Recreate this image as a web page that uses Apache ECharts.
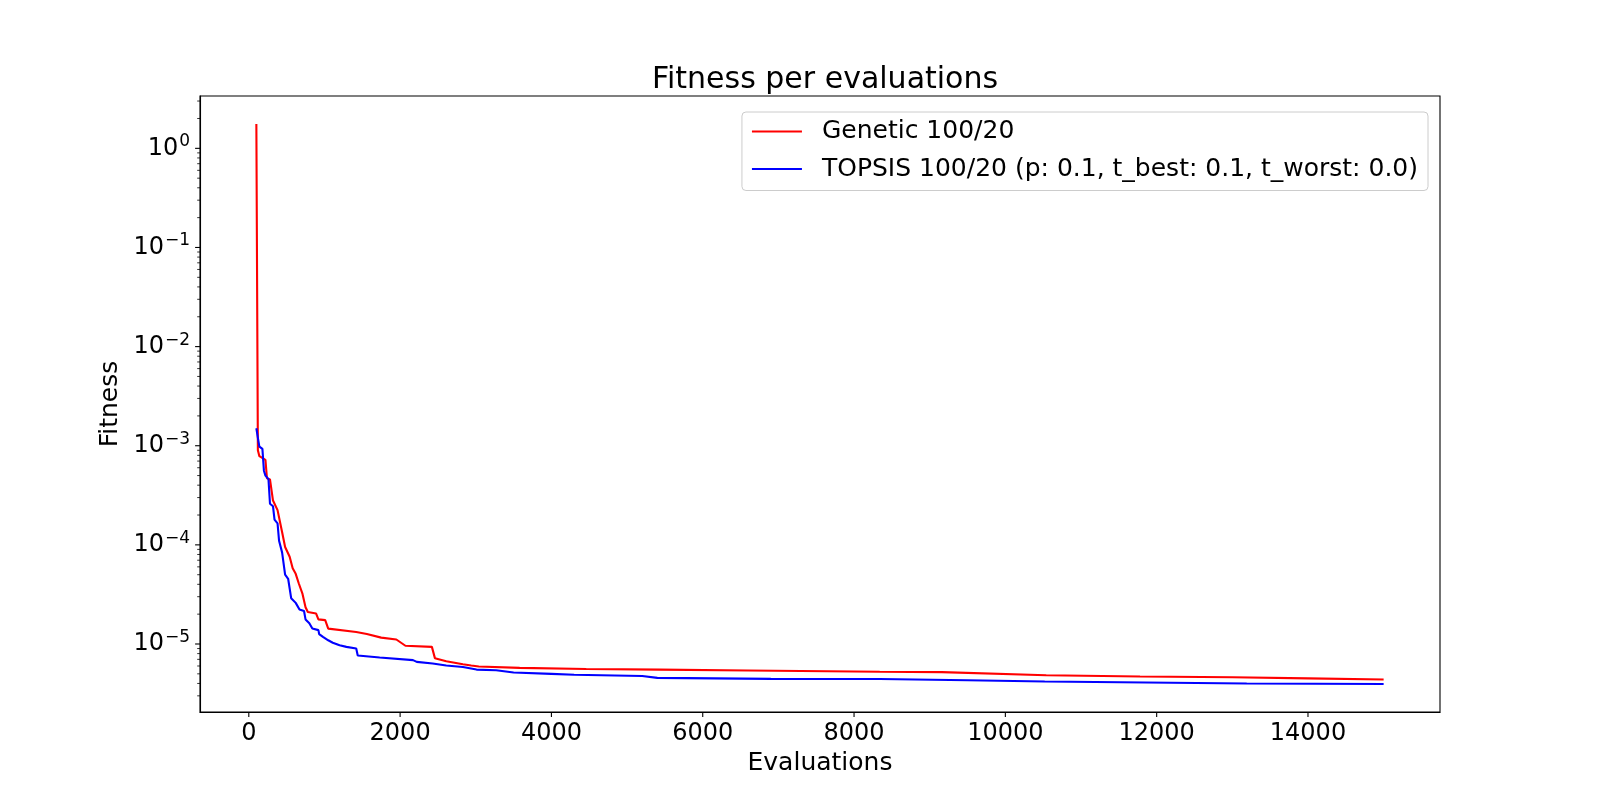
<!DOCTYPE html>
<html><head><meta charset="utf-8">
<script src="https://cdn.jsdelivr.net/npm/echarts@6/dist/echarts.min.js"></script>
<style>html,body{margin:0;padding:0;background:#fff}#c{width:1600px;height:800px}</style>
</head><body><div id="c"></div>
<script>
const chartTitle = 'Fitness per evaluations';
const xName = 'Evaluations';
const yName = 'Fitness';
const seriesNames = ['Genetic 100/20', 'TOPSIS 100/20 (p: 0.1, t_best: 0.1, t_worst: 0.0)'];

const geneticEvals = [100,120,140,220,240,280,320,380,400,440,480,540,580,620,660,710,750,780,890,920,1010,1050,1420,1560,1750,1950,2070,2420,2460,2610,2830,2940,3040,3580,4460,5430,6600,8340,9160,9180,10540,11780,13000,14000,15000];
const geneticFitness = [1.76,9.0e-4,7.85e-4,7.2e-4,4.7e-4,4.57e-4,2.8e-4,2.24e-4,2.15e-4,1.35e-4,9.5e-5,7.6e-5,5.8e-5,5.1e-5,4.1e-5,3.2e-5,2.35e-5,2.1e-5,2.03e-5,1.77e-5,1.74e-5,1.43e-5,1.32e-5,1.26e-5,1.16e-5,1.11e-5,9.6e-6,9.35e-6,7.2e-6,6.7e-6,6.25e-6,6.07e-6,5.93e-6,5.74e-6,5.6e-6,5.52e-6,5.4e-6,5.24e-6,5.2e-6,4.99e-6,4.84e-6,4.7e-6,4.62e-6,4.5e-6,4.38e-6];

const topsisEvals = [100,120,140,180,200,220,260,280,320,340,380,400,440,480,520,560,620,670,730,750,800,840,920,930,980,1050,1110,1200,1290,1420,1440,1730,2170,2220,2430,2610,2830,3010,3270,3500,4000,4300,5200,5400,6900,8340,9500,10520,13190,15000];
const topsisFitness = [1.5e-3,1.2e-3,9.8e-4,9.3e-4,5.6e-4,5.0e-4,4.6e-4,2.6e-4,2.45e-4,1.8e-4,1.65e-4,1.1e-4,8.4e-5,5.0e-5,4.55e-5,2.9e-5,2.6e-5,2.23e-5,2.15e-5,1.77e-5,1.62e-5,1.43e-5,1.38e-5,1.26e-5,1.18e-5,1.09e-5,1.03e-5,9.7e-6,9.35e-6,9.0e-6,7.65e-6,7.3e-6,6.87e-6,6.6e-6,6.35e-6,6.07e-6,5.87e-6,5.52e-6,5.43e-6,5.15e-6,5.0e-6,4.9e-6,4.75e-6,4.55e-6,4.45e-6,4.44e-6,4.31e-6,4.18e-6,3.99e-6,3.95e-6];

const xTickValues = [0,2000,4000,6000,8000,10000,12000,14000];
const yTickExponents = [0,-1,-2,-3,-4,-5];

const X_MIN = -645, X_MAX = 15745;
const Y_MIN = Math.pow(10, -5.686), Y_MAX = Math.pow(10, 0.528);
const FONT = 'DejaVu Sans';

const yMajor = yTickExponents.map(e => Math.pow(10, e));
const yMinor = [];
for (let n = -6; n <= 0; n++) for (let k = 2; k <= 9; k++) {
  const v = k * Math.pow(10, n);
  if (v > Y_MIN && v < Y_MAX) yMinor.push(v);
}
const tickData = [];
yMajor.forEach(v => tickData.push([X_MIN, v, 1]));
yMinor.forEach(v => tickData.push([X_MIN, v, 0]));
xTickValues.forEach(v => tickData.push([v, Y_MIN, 2]));

function zip(a, b) { return a.map((x, i) => [x, b[i]]); }

const chart = echarts.init(document.getElementById('c'), null, {renderer: 'canvas'});
chart.setOption({
  animation: false,
  backgroundColor: '#fff',
  title: {
    text: chartTitle, left: 820, top: 60, textAlign: 'center',
    textStyle: {fontFamily: FONT, fontSize: 30, fontWeight: 'normal', color: '#000'}
  },
  legend: {
    data: seriesNames.map(n => ({name: n, icon: 'rect'})), orient: 'vertical', right: 172, top: 112,
    itemWidth: 50, itemHeight: 2.1, itemGap: 12.5,
    padding: [7, 10, 9, 10],
    backgroundColor: 'rgba(255,255,255,0.8)', borderColor: '#cccccc', borderWidth: 1, borderRadius: 4,
    textStyle: {fontFamily: FONT, fontSize: 25, color: '#000', padding: [0, 0, 0, 15], lineHeight: 25}
  },
  grid: {left: 200, right: 160, top: 96, bottom: 88, show: true, borderColor: '#000', borderWidth: 1.1, backgroundColor: 'transparent'},
  xAxis: {
    type: 'value', min: X_MIN, max: X_MAX, splitNumber: 8,
    name: xName, nameLocation: 'middle', nameGap: 38,
    nameTextStyle: {fontFamily: FONT, fontSize: 25, color: '#000'},
    axisLine: {show: true, onZero: false, lineStyle: {color: '#000', width: 1.1}},
    axisTick: {show: false}, splitLine: {show: false},
    axisLabel: {showMinLabel: false, showMaxLabel: false, margin: 10, fontFamily: FONT, fontSize: 24, color: '#000',
      formatter: v => String(v)}
  },
  yAxis: {
    type: 'log', logBase: 10, min: Y_MIN, max: Y_MAX,
    name: yName, nameLocation: 'middle', nameGap: 72,
    nameTextStyle: {fontFamily: FONT, fontSize: 25, color: '#000'},
    axisLine: {show: true, onZero: false, lineStyle: {color: '#000', width: 1.1}},
    axisTick: {show: false}, splitLine: {show: false}, minorTick: {show: false},
    axisLabel: {
      showMinLabel: false, showMaxLabel: false, margin: 10, color: '#000',
      formatter: function (v) {
        const e = Math.round(Math.log10(v));
        if (Math.abs(Math.log10(v) - e) > 1e-6) return '';
        return '{b|10}{e|' + String(e).replace('-', '\u2212') + '}';
      },
      rich: {
        b: {fontFamily: FONT, fontSize: 24, color: '#000', lineHeight: 30},
        e: {fontFamily: FONT, fontSize: 17, color: '#000', verticalAlign: 'top', lineHeight: 17, padding: [0, 0, 12, 1]}
      }
    }
  },
  series: [
    {name: seriesNames[0], type: 'line', data: zip(geneticEvals, geneticFitness), showSymbol: false, symbol: 'none',
     lineStyle: {color: '#ff0000', width: 2.1}, itemStyle: {color: '#ff0000'}, z: 3},
    {name: seriesNames[1], type: 'line', data: zip(topsisEvals, topsisFitness), showSymbol: false, symbol: 'none',
     lineStyle: {color: '#0000ff', width: 2.1}, itemStyle: {color: '#0000ff'}, z: 4},
    {name: 'ticks', type: 'custom', silent: true, clip: false, z: 10, data: tickData,
     renderItem: function (params, api) {
       const kind = api.value(2);
       const p = api.coord([api.value(0), api.value(1)]);
       if (kind === 2) {
         return {type: 'line', shape: {x1: p[0], y1: p[1], x2: p[0], y2: p[1] + 4.9}, style: {stroke: '#000', lineWidth: 1.1}};
       }
       const len = kind === 1 ? 4.9 : 2.8;
       return {type: 'line', shape: {x1: p[0] - len, y1: p[1], x2: p[0], y2: p[1]}, style: {stroke: '#000', lineWidth: kind === 1 ? 1.1 : 0.8}};
     }}
  ]
});
</script></body></html>
